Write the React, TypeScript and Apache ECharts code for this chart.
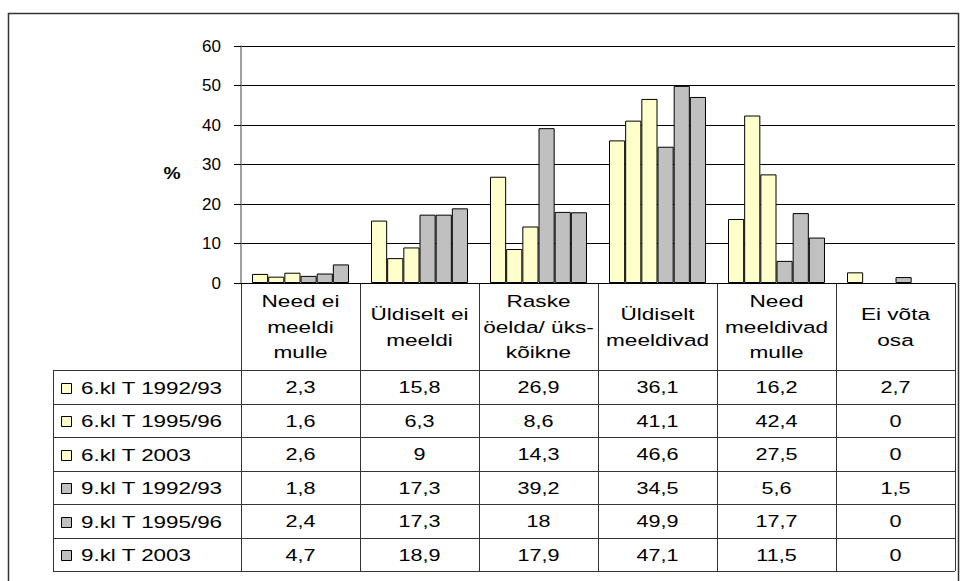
import React, { useEffect, useRef } from "react";
import * as echarts from "echarts";

const categories = [
  "Need ei\nmeeldi\nmulle",
  "Üldiselt ei\nmeeldi",
  "Raske\nöelda/ üks-\nkõikne",
  "Üldiselt\nmeeldivad",
  "Need\nmeeldivad\nmulle",
  "Ei võta\nosa",
];
const seriesNames = [
  "6.kl T 1992/93",
  "6.kl T 1995/96",
  "6.kl T 2003",
  "9.kl T 1992/93",
  "9.kl T 1995/96",
  "9.kl T 2003",
];
const g6_1992 = [2.3, 15.8, 26.9, 36.1, 16.2, 2.7];
const g6_1995 = [1.6, 6.3, 8.6, 41.1, 42.4, 0];
const g6_2003 = [2.6, 9, 14.3, 46.6, 27.5, 0];
const g9_1992 = [1.8, 17.3, 39.2, 34.5, 5.6, 1.5];
const g9_1995 = [2.4, 17.3, 18, 49.9, 17.7, 0];
const g9_2003 = [4.7, 18.9, 17.9, 47.1, 11.5, 0];
const seriesValues = [g6_1992, g6_1995, g6_2003, g9_1992, g9_1995, g9_2003];
const seriesColors = ["#FFFFCC", "#FFFFCC", "#FFFFCC", "#C0C0C0", "#C0C0C0", "#C0C0C0"];
const yMin = 0;
const yMax = 60;
const yInterval = 10;
const yAxisName = "%";

const FONT = "'Liberation Sans', Arial, sans-serif";

export default function App() {
  const ref = useRef<HTMLDivElement>(null);
  useEffect(() => {
    const chart = echarts.init(ref.current!, null, { renderer: "svg" });
    const gridLeft = 241;
    const gridTop = 46;
    const gridW = 714;
    const gridH = 237;
    chart.setOption({
      animation: false,
      backgroundColor: "#ffffff",
      grid: { left: gridLeft, top: gridTop, width: gridW, height: gridH, containLabel: false },
      xAxis: {
        type: "category",
        data: categories,
        axisLine: { show: true, lineStyle: { color: "#000", width: 1 } },
        axisTick: { show: false },
        axisLabel: { show: false },
        splitLine: { show: false },
      },
      yAxis: {
        type: "value",
        min: yMin,
        max: yMax,
        interval: yInterval,
        axisLine: { show: true, lineStyle: { color: "#808080", width: 1.5 } },
        axisTick: { show: true, inside: false, length: 7, lineStyle: { color: "#000" } },
        axisLabel: { margin: 20, fontSize: 17, color: "#000", fontFamily: FONT },
        splitLine: { show: true, lineStyle: { color: "#000", width: 1 } },
      },
      series: seriesNames.map((name, i) => ({
        type: "bar",
        name,
        data: seriesValues[i].map((v) =>
          v === 0 ? { value: v, itemStyle: { borderWidth: 0, opacity: 0 } } : v
        ),
        barGap: "0%",
        barCategoryGap: "18.5%",
        itemStyle: { color: seriesColors[i], borderColor: "#000", borderWidth: 1 },
      })),
    });

    // Data table built from the same arrays, aligned to the category axis
    const band = gridW / categories.length;
    const centers = categories.map((_, i) => {
      const p = chart.convertToPixel({ xAxisIndex: 0 }, i) as number;
      return typeof p === "number" && isFinite(p) ? p : gridLeft + band * (i + 0.5);
    });
    const axisY = gridTop + gridH; // 283
    const headerBottom = 370;
    const rowH = 33.5;
    const tableLeft = 53;
    const tableRight = gridLeft + gridW;
    const tableBottom = headerBottom + rowH * seriesNames.length;
    const crisp = (v: number) => Math.round(v) + 0.5;
    const lineStyle = { stroke: "#333", lineWidth: 1 };
    const els: any[] = [];

    // outer frame
    els.push({
      type: "rect",
      shape: { x: 8.5, y: 13.5, width: 950, height: 620 },
      style: { fill: "none", stroke: "#333", lineWidth: 1.5 },
      silent: true,
    });

    // vertical lines of table
    for (let k = 0; k <= categories.length; k++) {
      const x = crisp(gridLeft + band * k);
      els.push({ type: "line", shape: { x1: x, y1: axisY, x2: x, y2: tableBottom }, style: lineStyle, silent: true });
    }
    els.push({ type: "line", shape: { x1: crisp(tableLeft), y1: headerBottom, x2: crisp(tableLeft), y2: tableBottom }, style: lineStyle, silent: true });
    // horizontal lines
    for (let r = 0; r <= seriesNames.length; r++) {
      const y = crisp(headerBottom + rowH * r);
      els.push({ type: "line", shape: { x1: tableLeft, y1: y, x2: tableRight, y2: y }, style: lineStyle, silent: true });
    }

    // header texts
    categories.forEach((c, i) => {
      els.push({
        type: "text",
        x: centers[i],
        y: (axisY + headerBottom) / 2 + 0.5,
        scaleX: 1.33,
        style: {
          text: c,
          align: "center",
          verticalAlign: "middle",
          fontSize: 17,
          lineHeight: 25.5,
          fontFamily: FONT,
          fill: "#000",
        },
        silent: true,
      });
    });

    // rows
    seriesNames.forEach((name, r) => {
      const cy = headerBottom + rowH * r + rowH / 2;
      els.push({
        type: "rect",
        shape: { x: 61.5, y: Math.round(cy - 4) + 0.5, width: 10, height: 10 },
        style: { fill: seriesColors[r], stroke: "#000", lineWidth: 1 },
        silent: true,
      });
      els.push({
        type: "text",
        x: 81,
        y: cy + 1,
        scaleX: 1.4,
        style: { text: name, align: "left", verticalAlign: "middle", fontSize: 16, fontFamily: FONT, fill: "#000" },
        silent: true,
      });
      seriesValues[r].forEach((v, i) => {
        els.push({
          type: "text",
          x: centers[i],
          y: cy + 1,
          scaleX: 1.35,
          style: {
            text: String(v).replace(".", ","),
            align: "center",
            verticalAlign: "middle",
            fontSize: 16,
            fontFamily: FONT,
            fill: "#000",
          },
          silent: true,
        });
      });
    });

    // y axis name
    els.push({
      type: "text",
      x: 172,
      y: 174,
      scaleX: 1.2,
      style: { text: yAxisName, align: "center", verticalAlign: "middle", fontSize: 16, fontWeight: "bold", fontFamily: FONT, fill: "#000" },
      silent: true,
    });

    chart.setOption({ graphic: { elements: els } });
    return () => chart.dispose();
  }, []);
  return (
    <div
      ref={ref}
      style={{ position: "absolute", left: 0, top: 0, width: 960, height: 581, background: "#fff" }}
    />
  );
}
